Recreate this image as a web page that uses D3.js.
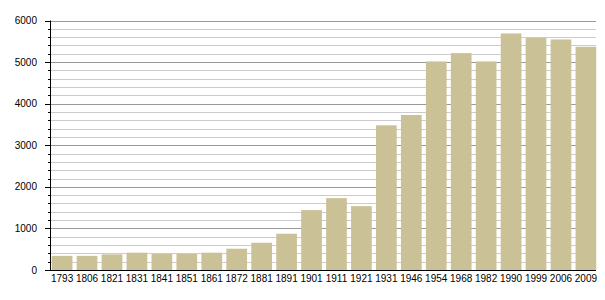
<!DOCTYPE html>
<html><head><meta charset="utf-8">
<script src="https://cdn.jsdelivr.net/npm/d3@7"></script>
<style>body{margin:0;background:#fff}svg{display:block}</style>
</head><body>
<script>
const years = ["1793","1806","1821","1831","1841","1851","1861","1872","1881","1891","1901","1911","1921","1931","1946","1954","1968","1982","1990","1999","2006","2009"];
const population = [340,340,376,416,386,386,416,512,656,872,1440,1728,1536,3480,3727,5016,5216,5016,5688,5584,5544,5368];
const yTicks = [0,1000,2000,3000,4000,5000,6000];

const W = 605, H = 300;
const m = {left: 50, right: 9, top: 20.5, bottom: 30};
const svg = d3.select("body").append("svg").attr("width", W).attr("height", H);
const x = d3.scaleBand().domain(years).range([m.left, 598]).paddingInner(0.17).paddingOuter(0.07);
const y = d3.scaleLinear().domain([0, 6000]).range([H - m.bottom, m.top]);

const minor = d3.range(0, 6001, 200);
svg.append("g").selectAll("line").data(minor).join("line")
  .attr("x1", m.left).attr("x2", W - m.right)
  .attr("y1", d => Math.round(y(d)) + 0.5).attr("y2", d => Math.round(y(d)) + 0.5)
  .attr("stroke", d => d % 1000 === 0 ? "#999" : "#ccc").attr("stroke-width", 1);

svg.append("g").selectAll("rect").data(population).join("rect")
  .attr("x", (d, i) => x(years[i])).attr("width", x.bandwidth())
  .attr("y", d => y(d)).attr("height", d => y(0) - y(d))
  .attr("fill", "#cbc197");

// y axis
const ga = svg.append("g");
ga.append("line").attr("x1", m.left + 0.5).attr("x2", m.left + 0.5).attr("y1", y(6000)).attr("y2", y(0)).attr("stroke", "#000");
ga.selectAll("line.t").data(minor).join("line").attr("class","t")
  .attr("x1", d => d % 1000 === 0 ? m.left - 5 : m.left - 2).attr("x2", m.left)
  .attr("y1", d => Math.round(y(d)) + 0.5).attr("y2", d => Math.round(y(d)) + 0.5).attr("stroke", "#000");
ga.selectAll("text").data(yTicks).join("text")
  .attr("x", m.left - 13).attr("y", d => y(d)).attr("dy", "0.35em")
  .attr("text-anchor", "end").attr("font-family", "Liberation Sans, Arial, sans-serif").attr("font-size", 10).attr("fill", "#000")
  .text(d => d);

// x axis
svg.append("line").attr("x1", m.left).attr("x2", W - m.right).attr("y1", Math.round(y(0)) + 0.5).attr("y2", Math.round(y(0)) + 0.5).attr("stroke", "#000");
svg.append("g").selectAll("text").data(years).join("text")
  .attr("x", d => x(d) + x.bandwidth() / 2).attr("y", y(0) + 12)
  .attr("text-anchor", "middle").attr("font-family", "Liberation Sans, Arial, sans-serif").attr("font-size", 10).attr("fill", "#000")
  .text(d => d);
</script>
</body></html>
